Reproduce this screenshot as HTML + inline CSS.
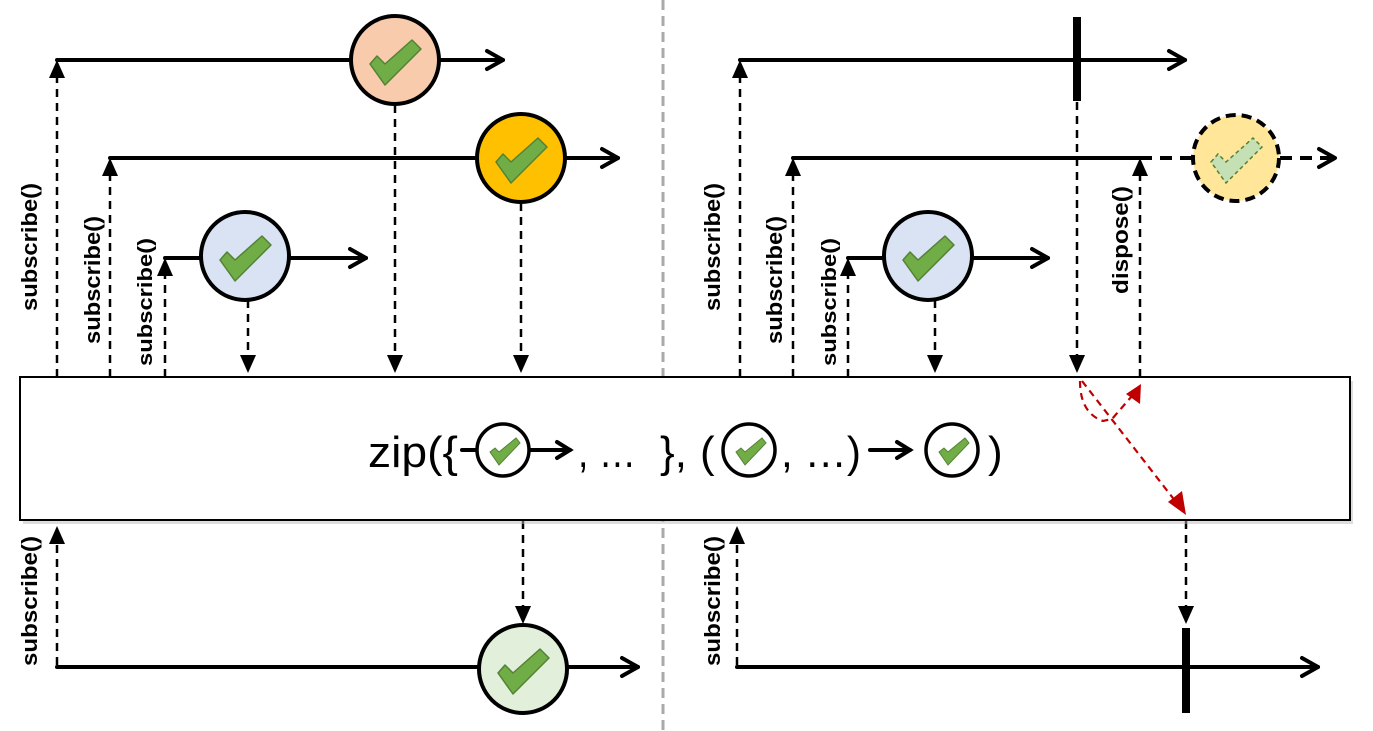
<!DOCTYPE html>
<html><head><meta charset="utf-8"><style>
html,body{margin:0;padding:0;background:#fff;}
svg{display:block;}
text{font-family:"Liberation Sans",sans-serif;}
</style></head><body>
<svg width="1373" height="731" viewBox="0 0 1373 731" xmlns="http://www.w3.org/2000/svg">
<defs>
<g id="chk"><polygon points="-25,2 -18,-6 -10,2 17,-22 26,-13 -10,23" fill="#70ad47" stroke="#548235" stroke-width="1.5" stroke-linejoin="round"/></g>
<g id="schk"><polygon points="-15,1 -10,-3 -6,1 11,-13 15,-8 -6,14" fill="#70ad47" stroke="#548235" stroke-width="1"/></g>
<polygon id="up" points="0,0 -8,18 8,18" fill="#000"/>
<polygon id="dn" points="0,0 -8,-18 8,-18" fill="#000"/>
</defs>

<line x1="663" y1="0" x2="663" y2="731" stroke="#aaa" stroke-width="3" stroke-dasharray="10,6"/>

<g stroke="#000" stroke-width="4" fill="none" stroke-linecap="round" stroke-linejoin="round">
<line x1="57" y1="60" x2="503" y2="60"/><polyline points="487,51 503,60 487,69"/>
<line x1="110" y1="158" x2="618" y2="158"/><polyline points="602,149 618,158 602,167"/>
<line x1="165" y1="258" x2="366" y2="258"/><polyline points="350,249 366,258 350,267"/>
<line x1="57" y1="667" x2="638" y2="667"/><polyline points="622,658 638,667 622,676"/>
<line x1="740" y1="60" x2="1185" y2="60"/><polyline points="1169,51 1185,60 1169,69"/>
<line x1="793" y1="158" x2="1140" y2="158"/>
<line x1="1140" y1="158" x2="1335" y2="158" stroke-dasharray="12,8" stroke-linecap="butt"/><polyline points="1319,149 1335,158 1319,167"/>
<line x1="848" y1="258" x2="1048" y2="258"/><polyline points="1032,249 1048,258 1032,267"/>
<line x1="737" y1="667" x2="1318" y2="667"/><polyline points="1302,658 1318,667 1302,676"/>
</g>
<rect x="1073" y="17" width="8" height="84" fill="#000"/>
<rect x="1182" y="628" width="8" height="85" fill="#000"/>

<g stroke="#000" stroke-width="2.5" stroke-dasharray="8,6" fill="none">
<line x1="57" y1="377" x2="57" y2="76"/>
<line x1="110" y1="377" x2="110" y2="174"/>
<line x1="165" y1="377" x2="165" y2="274"/>
<line x1="248" y1="300" x2="248" y2="358"/>
<line x1="395" y1="105" x2="395" y2="358"/>
<line x1="521" y1="203" x2="521" y2="358"/>
<line x1="57" y1="665" x2="57" y2="542"/>
<line x1="523" y1="521" x2="523" y2="608"/>
<line x1="740" y1="377" x2="740" y2="76"/>
<line x1="793" y1="377" x2="793" y2="174"/>
<line x1="848" y1="377" x2="848" y2="274"/>
<line x1="935" y1="300" x2="935" y2="358"/>
<line x1="1077" y1="102" x2="1077" y2="358"/>
<line x1="1140" y1="377" x2="1140" y2="174"/>
<line x1="737" y1="665" x2="737" y2="542"/>
<line x1="1186" y1="521" x2="1186" y2="608"/>
</g>
<use href="#up" x="57" y="60"/><use href="#up" x="110" y="158"/><use href="#up" x="165" y="258"/>
<use href="#up" x="740" y="60"/><use href="#up" x="793" y="158"/><use href="#up" x="848" y="258"/>
<use href="#up" x="1140" y="158"/><use href="#up" x="57" y="526"/><use href="#up" x="737" y="526"/>
<use href="#dn" x="248" y="373"/><use href="#dn" x="395" y="373"/><use href="#dn" x="521" y="373"/>
<use href="#dn" x="935" y="373"/><use href="#dn" x="1077" y="373"/>
<use href="#dn" x="523" y="624"/><use href="#dn" x="1186" y="624"/>

<rect x="23" y="381" width="1330" height="143" fill="#bbb" opacity="0.5"/>
<rect x="20" y="377" width="1330" height="143" fill="#fff" stroke="#000" stroke-width="2"/>

<g stroke="#c00000" stroke-width="2.2" stroke-dasharray="7,5" fill="none">
<line x1="1082" y1="381" x2="1176" y2="502"/>
<path d="M1080,381 Q1080,413 1103,421 L1112,419 L1132,396"/>
</g>
<polygon points="1186,515 1168,502 1182,491" fill="#c00000"/>
<polygon points="1141,384 1140,404 1126,394" fill="#c00000"/>

<g stroke="#000" stroke-width="4">
<circle cx="395" cy="60" r="44" fill="#f8cbad"/>
<circle cx="521" cy="158" r="44" fill="#ffc000"/>
<circle cx="245" cy="256" r="44" fill="#dae3f3"/>
<circle cx="523" cy="669" r="44" fill="#e2efda"/>
<circle cx="928" cy="256" r="44" fill="#dae3f3"/>
<circle cx="1236" cy="158" r="43" fill="#ffe699" stroke-dasharray="10,6"/>
</g>
<use href="#chk" x="395" y="62"/>
<use href="#chk" x="521" y="160"/>
<use href="#chk" x="245" y="258"/>
<use href="#chk" x="523" y="671"/>
<use href="#chk" x="928" y="258"/>
<polygon transform="translate(1236,160)" points="-25,2 -18,-6 -10,2 17,-22 26,-13 -10,23" fill="#c5e0b4" stroke="#548235" stroke-width="1.5" stroke-dasharray="4,3"/>

<g fill="#000" font-weight="bold" font-size="22" text-anchor="middle">
<text transform="translate(37,247) rotate(-90)" textLength="128" lengthAdjust="spacingAndGlyphs">subscribe()</text>
<text transform="translate(100,280) rotate(-90)" textLength="128" lengthAdjust="spacingAndGlyphs">subscribe()</text>
<text transform="translate(152,302) rotate(-90)" font-size="20" textLength="128" lengthAdjust="spacingAndGlyphs">subscribe()</text>
<text transform="translate(37,601) rotate(-90)" textLength="130" lengthAdjust="spacingAndGlyphs">subscribe()</text>
<text transform="translate(720,247) rotate(-90)" textLength="128" lengthAdjust="spacingAndGlyphs">subscribe()</text>
<text transform="translate(782,280) rotate(-90)" textLength="128" lengthAdjust="spacingAndGlyphs">subscribe()</text>
<text transform="translate(836,302) rotate(-90)" font-size="20" textLength="128" lengthAdjust="spacingAndGlyphs">subscribe()</text>
<text transform="translate(1128,240) rotate(-90)" textLength="108" lengthAdjust="spacingAndGlyphs">dispose()</text>
<text transform="translate(720,601) rotate(-90)" textLength="130" lengthAdjust="spacingAndGlyphs">subscribe()</text>
</g>

<g font-size="44" fill="#000">
<text x="368" y="467" textLength="90" lengthAdjust="spacingAndGlyphs">zip({</text>
<text x="578" y="467" textLength="58" lengthAdjust="spacingAndGlyphs">, …</text>
<text x="660" y="467">},</text>
<text x="700" y="467">(</text>
<text x="781" y="467" textLength="80" lengthAdjust="spacingAndGlyphs">, …)</text>
<text x="988" y="467">)</text>
</g>
<g stroke="#000" stroke-width="4" fill="none" stroke-linecap="round">
<line x1="462" y1="450" x2="478" y2="450"/>
<line x1="530" y1="450" x2="570" y2="450"/><polyline points="557,442 570,450 557,458"/>
<line x1="870" y1="450" x2="910" y2="450"/><polyline points="897,442 910,450 897,458"/>
</g>
<g stroke="#000" stroke-width="3.5" fill="#fff">
<circle cx="503" cy="450" r="26"/>
<circle cx="749" cy="450" r="26"/>
<circle cx="952" cy="450" r="26"/>
</g>
<use href="#schk" x="505" y="451"/>
<use href="#schk" x="751" y="451"/>
<use href="#schk" x="954" y="451"/>
</svg>
</body></html>
